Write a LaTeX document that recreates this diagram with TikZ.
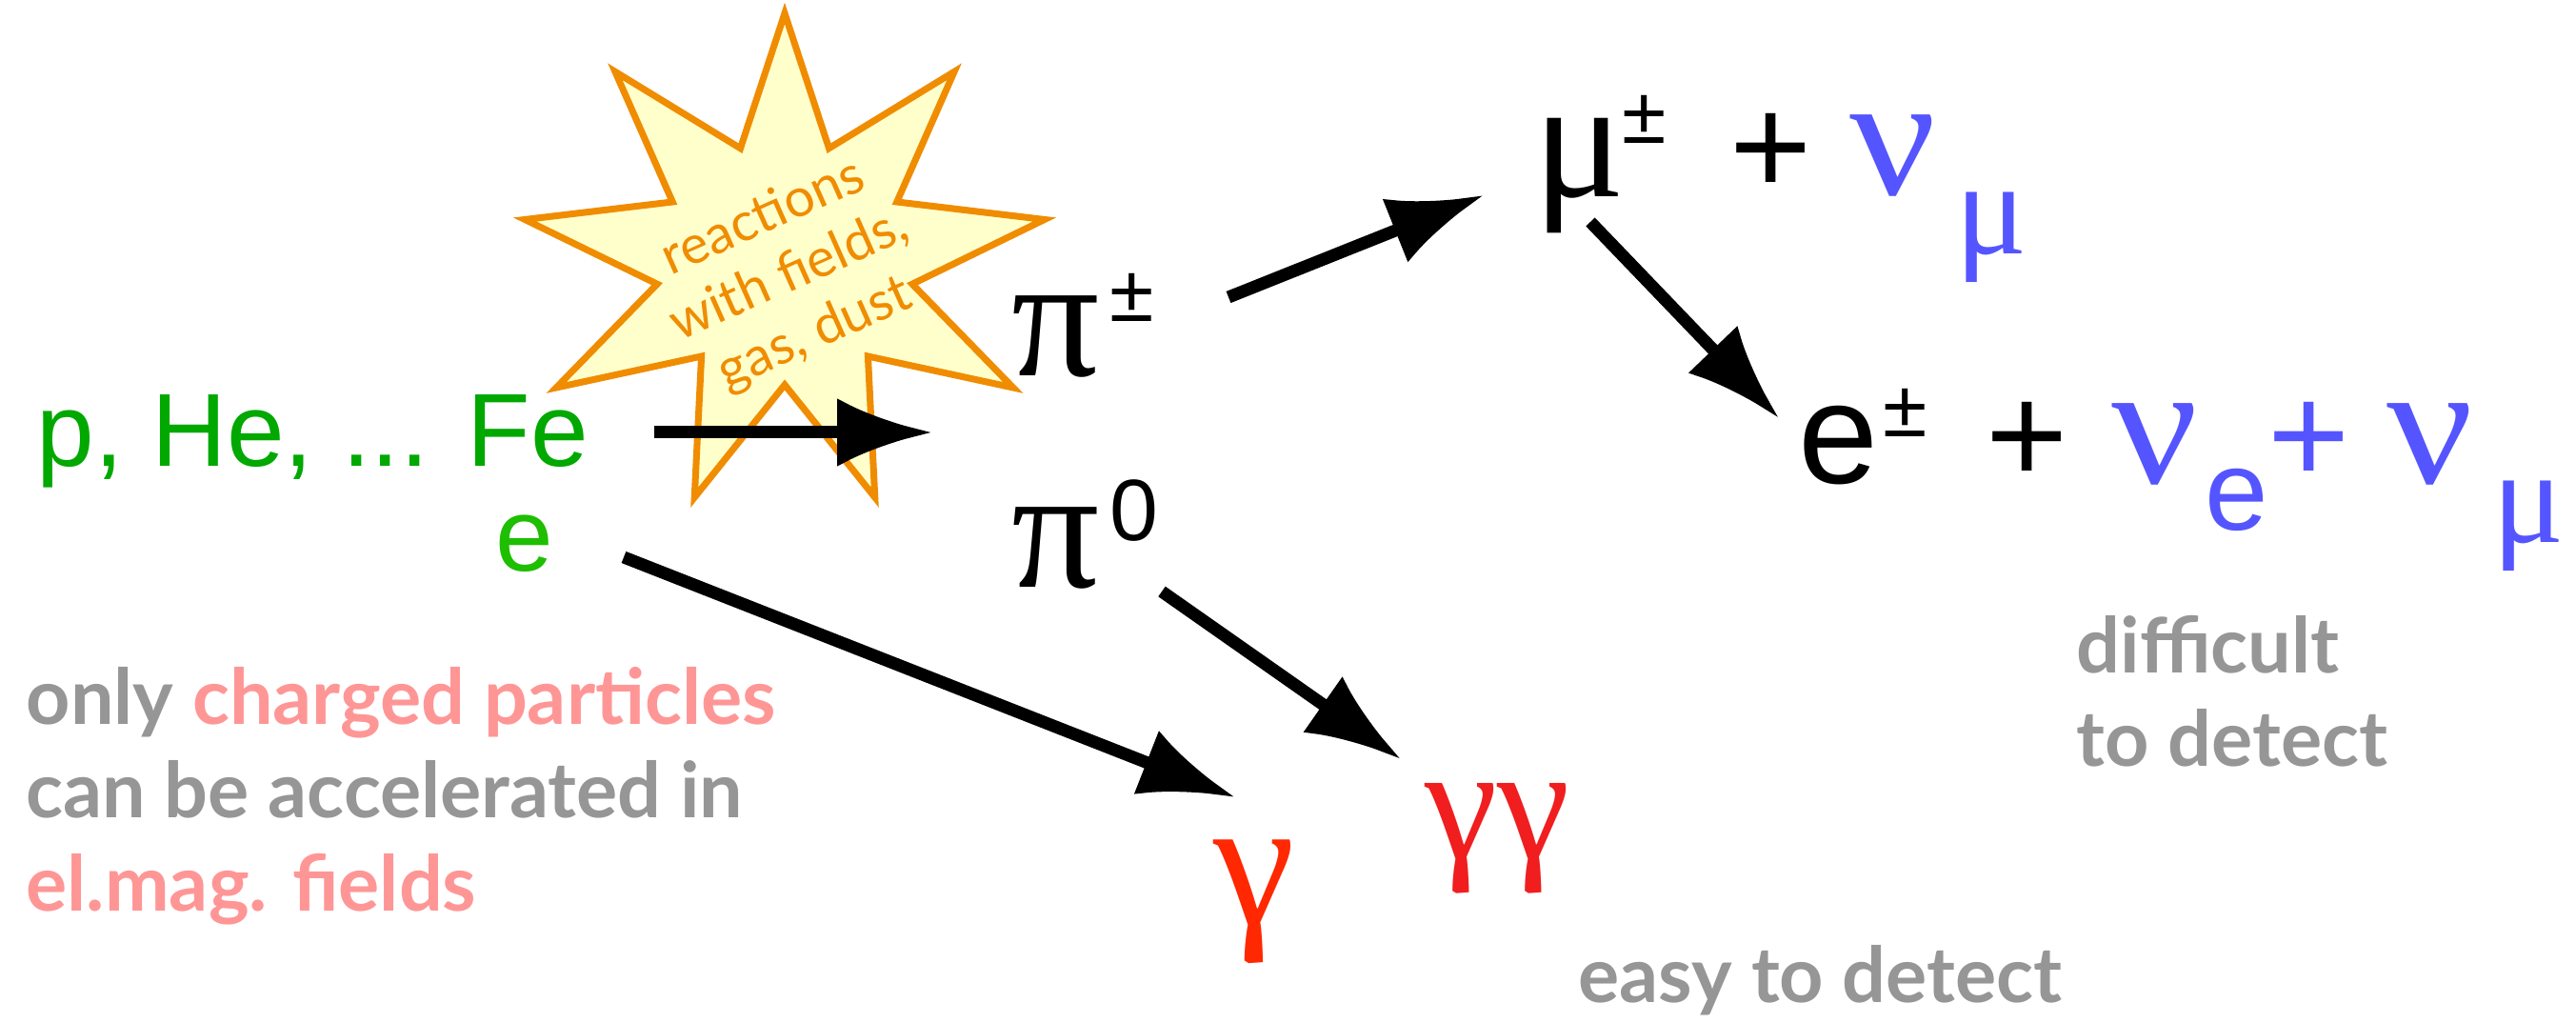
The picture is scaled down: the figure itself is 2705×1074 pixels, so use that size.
\documentclass[tikz,border=0pt]{standalone}
\usepackage{graphicx}
\usepackage{fontspec}
\setmainfont{Liberation Sans}
\newfontfamily\greekfont{Liberation Serif}
\newfontfamily\gillfont{Lato}
\usetikzlibrary{arrows.meta}

\definecolor{nucgreen}{RGB}{0,168,0}
\definecolor{elgreen}{RGB}{30,190,0}
\definecolor{starorange}{RGB}{240,140,0}
\definecolor{staryellow}{RGB}{255,255,204}
\definecolor{nublue}{RGB}{85,85,255}
\definecolor{gamred}{RGB}{255,40,0}
\definecolor{gamredb}{RGB}{240,30,30}
\definecolor{notepink}{RGB}{255,150,150}
\definecolor{notegray}{RGB}{150,150,150}

\newcommand{\fsz}[1]{\fontsize{#1}{#1}\selectfont}
\newcommand{\grk}[1]{{\greekfont #1}}
\newcommand{\wide}[2]{\scalebox{#1}[1]{\greekfont #2}}
\newcommand{\adv}[2]{\makebox[#1][l]{#2}}
\newcommand{\upon}[3]{\raisebox{#1}{\fsz{#2}#3}}
\newcommand{\downon}[3]{\raisebox{-#1}{\fsz{#2}#3}}

\begin{document}
\begin{tikzpicture}[x=0.1mm, y=-0.1mm,
		every node/.style={inner sep=0pt},
		particle/.style={anchor=base west},
		remark/.style={anchor=base west, align=left, text=notegray,
			font=\gillfont\bfseries\fontsize{23}{28}\selectfont},
		starline/.style={draw=starorange, fill=staryellow, line width=2pt, line join=miter},
		decay/.style={line width=3.7pt, -{Latex[length=10mm,width=7.2mm]}}]
			\fill[white] (0,0) rectangle (2705,1074);
			\useasboundingbox (0,0) rectangle (2705,1074);
			% star of the reactions
			\draw[starline] (824,14) \foreach \i [evaluate=\i as \rx using {277-141*mod(\i,2)}, evaluate=\i as \ry using {262-134*mod(\i,2)}] in {1,...,17}
			{ -- ({824+\rx*cos(90-20*\i)},{276-\ry*sin(90-20*\i)}) } -- cycle;
			\node[rotate=24, text=starorange, align=center, font=\gillfont\fontsize{16}{19}\selectfont] (react) at (829,290) {reactions\\with fields,\\gas, dust};
			% particles
			\node[particle, text=nucgreen, font=\fsz{31}] (fe) at (38,490) {p, He, ... Fe};
			\node[particle, text=elgreen, font=\fsz{31}] (el) at (520,600) {e};
			\node[particle, font=\fsz{52}] (pipm) at (1062,395) {\adv{10.3mm}{\grk{π}}\upon{16.5pt}{24}{±}};
			\node[particle, font=\fsz{52}] (pizero) at (1062,617) {\adv{10.3mm}{\grk{π}}\upon{14pt}{26}{0}};
			\node[particle, font=\fsz{51}] (mu) at (1610,207) {\adv{9.3mm}{\grk{μ}}\upon{16pt}{24}{±}};
			\node[particle, font=\fsz{42}] (numu) at (1816,205) {\adv{12.6mm}{+}\textcolor{nublue}{\adv{11.1mm}{\wide{1.1}{\fsz{52}ν}}\downon{17.6pt}{40}{\grk{μ}}}};
			\node[particle, font=\fsz{43}] (epm) at (1888,508) {\adv{8.9mm}{e}\upon{14pt}{24}{±}};
			\node[particle, font=\fsz{42}] (nus) at (2085,508) {\adv{13.2mm}{+}\textcolor{nublue}{\adv{9.8mm}{\wide{1.1}{\fsz{52}ν}}\adv{6.6mm}{\downon{13.7pt}{34}{e}}\adv{12.5mm}{+}\adv{11.1mm}{\wide{1.1}{\fsz{52}ν}}\downon{17.6pt}{40}{\grk{μ}}}};
			\node[particle, text=gamred, font=\greekfont\fsz{55}] (gam) at (1274,971) {γ};
			\node[particle, text=gamredb, font=\greekfont\fsz{49}] (gamgam) at (1496,902) {γγ};
			% remarks
			\node[remark] (note) at (27,957) {only \textcolor{notepink}{charged particles}\\can be accelerated in\\\textcolor{notepink}{el.mag. fields}};
			\node[remark] (hard) at (2180,805) {difficult\\to detect};
			\node[remark] (easy) at (1657,1053) {easy to detect};
			% decays
			\coordinate (t1) at (687,454); \coordinate (h1) at (979,454);
			\coordinate (t2) at (1290,312); \coordinate (h2) at (1558,205);
			\coordinate (t3) at (1670,233); \coordinate (h3) at (1868,439);
			\coordinate (t4) at (1220,621); \coordinate (h4) at (1471,797);
			\coordinate (t5) at (655,585); \coordinate (h5) at (1297,837);
			\foreach \a/\b in {t1/h1,t2/h2,t3/h3,t4/h4,t5/h5}
			\draw[decay] (\a) -- (\b);
	\end{tikzpicture}
\end{document}
